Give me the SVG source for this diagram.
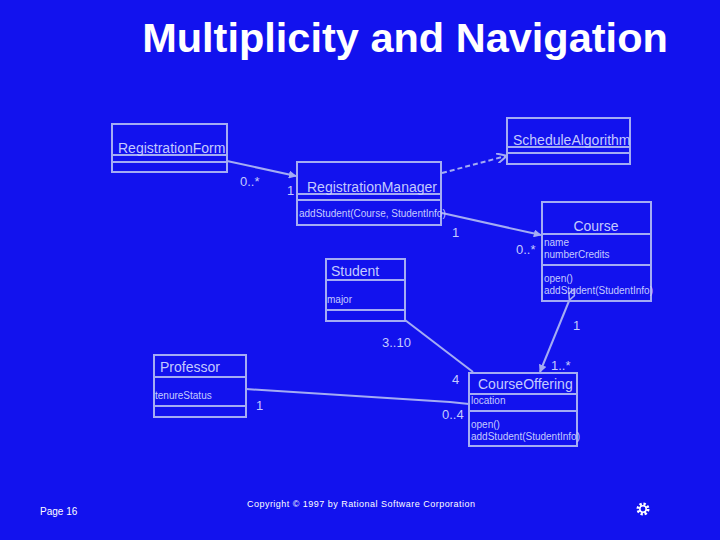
<svg xmlns="http://www.w3.org/2000/svg" width="720" height="540" viewBox="0 0 720 540">
<style>
.box{fill:none;stroke:#a4acf4;stroke-width:2}
.ln{fill:none;stroke:#a4acf4;stroke-width:2}
.dash{fill:none;stroke:#a4acf4;stroke-width:2;stroke-dasharray:5,3}
.nm{font-family:"Liberation Sans",Arial,sans-serif;font-size:14px;fill:#c4caff}
.sm{font-family:"Liberation Sans",Arial,sans-serif;font-size:10px;fill:#c4caff}
.mul{font-family:"Liberation Sans",Arial,sans-serif;font-size:13px;fill:#c4caff}
.title{font-family:"Liberation Sans",Arial,sans-serif;font-size:41.5px;font-weight:bold;fill:#ffffff}
.foot{font-family:"Liberation Sans",Arial,sans-serif;fill:#ffffff}
</style>
<defs>
<marker id="filled" viewBox="0 0 10 10" refX="9" refY="5" markerWidth="8" markerHeight="8" orient="auto" markerUnits="userSpaceOnUse">
<path d="M0,0 L10,5 L0,10 z" fill="#a4acf4"/>
</marker>
<marker id="open" viewBox="0 0 10 10" refX="9" refY="5" markerWidth="10" markerHeight="10" orient="auto" markerUnits="userSpaceOnUse">
<path d="M0,0 L10,5 L0,10" fill="none" stroke="#a4acf4" stroke-width="2"/>
</marker>
<marker id="diamond" viewBox="0 0 14 8" refX="0" refY="4" markerWidth="14" markerHeight="8" orient="auto-start-reverse" markerUnits="userSpaceOnUse">
<path d="M1,4 L7,1 L13,4 L7,7 z" fill="#1212ee" stroke="#a4acf4" stroke-width="1.5"/>
</marker>
</defs>
<rect width="720" height="540" fill="#1212ee"/>
<text class="title" x="405" y="52" text-anchor="middle">Multiplicity and Navigation</text>

<g id="connectors">
<line class="ln" x1="227" y1="161" x2="296" y2="176" marker-end="url(#filled)"/>
<line class="dash" x1="442" y1="173" x2="506" y2="156" marker-end="url(#open)"/>
<line class="ln" x1="442" y1="213" x2="541" y2="235" marker-end="url(#filled)"/>
<line class="ln" x1="405" y1="320" x2="473" y2="372"/>
<polyline class="ln" points="246,389 450,402 469,404"/>
<line class="ln" x1="569" y1="301" x2="540" y2="372" marker-start="url(#diamond)" marker-end="url(#filled)"/>
<text class="mul" x="240" y="186">0..*</text>
<text class="mul" x="287" y="195">1</text>
<text class="mul" x="452" y="237">1</text>
<text class="mul" x="516" y="254">0..*</text>
<text class="mul" x="382" y="347">3..10</text>
<text class="mul" x="452" y="384">4</text>
<text class="mul" x="573" y="330">1</text>
<text class="mul" x="551" y="370">1..*</text>
<text class="mul" x="256" y="410">1</text>
<text class="mul" x="442" y="419">0..4</text>
</g>

<g id="RegistrationForm">
<rect class="box" x="112" y="124" width="115" height="48"/>
<line class="box" x1="112" y1="155" x2="227" y2="155"/>
<line class="box" x1="112" y1="162" x2="227" y2="162"/>
<text class="nm" x="118" y="153">RegistrationForm</text>
</g>

<g id="ScheduleAlgorithm">
<rect class="box" x="507" y="118" width="123" height="46"/>
<line class="box" x1="507" y1="147" x2="630" y2="147"/>
<line class="box" x1="507" y1="153" x2="630" y2="153"/>
<text class="nm" x="513" y="145">ScheduleAlgorithm</text>
</g>

<g id="RegistrationManager">
<rect class="box" x="297" y="162" width="144" height="63"/>
<line class="box" x1="297" y1="194" x2="441" y2="194"/>
<line class="box" x1="297" y1="200" x2="441" y2="200"/>
<text class="nm" x="307" y="192">RegistrationManager</text>
<text class="sm" x="299" y="217">addStudent(Course, StudentInfo)</text>
</g>

<g id="Course">
<rect class="box" x="542" y="202" width="109" height="99"/>
<line class="box" x1="542" y1="234" x2="651" y2="234"/>
<line class="box" x1="542" y1="265" x2="651" y2="265"/>
<text class="nm" x="596" y="231" text-anchor="middle">Course</text>
<text class="sm" x="544" y="246">name</text>
<text class="sm" x="544" y="258">numberCredits</text>
<text class="sm" x="544" y="282">open()</text>
<text class="sm" x="544" y="294">addStudent(StudentInfo)</text>
</g>

<g id="Student">
<rect class="box" x="326" y="259" width="79" height="62"/>
<line class="box" x1="326" y1="280" x2="405" y2="280"/>
<line class="box" x1="326" y1="310" x2="405" y2="310"/>
<text class="nm" x="331" y="276">Student</text>
<text class="sm" x="327" y="303">major</text>
</g>

<g id="Professor">
<rect class="box" x="154" y="355" width="92" height="62"/>
<line class="box" x1="154" y1="377" x2="246" y2="377"/>
<line class="box" x1="154" y1="406" x2="246" y2="406"/>
<text class="nm" x="160" y="372">Professor</text>
<text class="sm" x="155" y="399">tenureStatus</text>
</g>

<g id="CourseOffering">
<rect class="box" x="469" y="373" width="108" height="73"/>
<line class="box" x1="469" y1="394" x2="577" y2="394"/>
<line class="box" x1="469" y1="411" x2="577" y2="411"/>
<text class="nm" x="478" y="389">CourseOffering</text>
<text class="sm" x="471" y="404">location</text>
<text class="sm" x="471" y="428">open()</text>
<text class="sm" x="471" y="440">addStudent(StudentInfo)</text>
</g>

<text class="foot" x="40" y="515" font-size="10">Page  16</text>
<text class="foot" x="247" y="507" font-size="9" textLength="228">Copyright © 1997 by Rational Software Corporation</text>
<g id="gear-icon">
<circle cx="643" cy="509" r="5" fill="none" stroke="#ffffff" stroke-width="3" stroke-dasharray="2.2,1.7"/>
<circle cx="643" cy="509" r="3.2" fill="none" stroke="#ffffff" stroke-width="1.6"/>
</g>
</svg>
